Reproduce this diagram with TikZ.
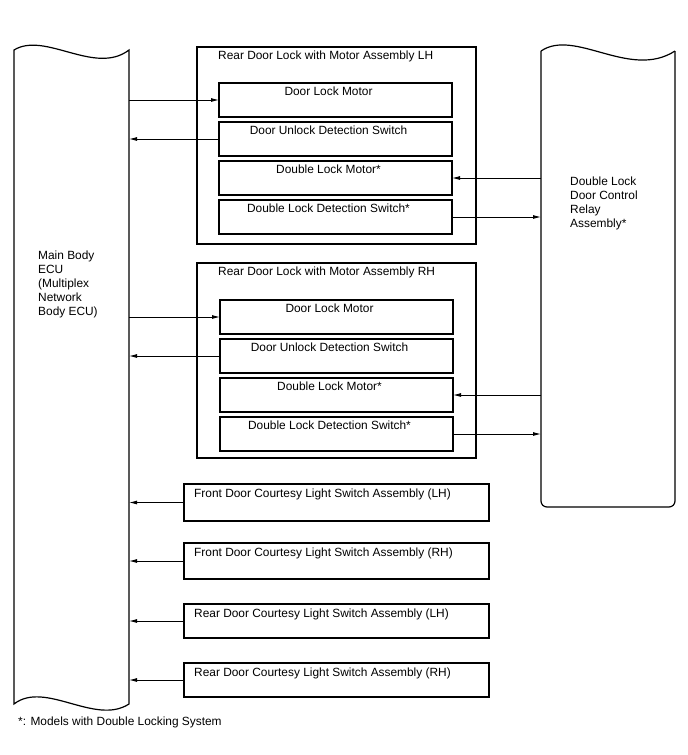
\documentclass[tikz,border=0pt]{standalone}
\usepackage{fontspec}
\setmainfont{Liberation Sans}
\usetikzlibrary{arrows.meta, positioning}

\begin{document}
\begin{tikzpicture}[
            x=1pt, y=-1pt,
            txt/.style={inner sep=0pt, font=\fontsize{11.9}{14}\selectfont},
            shell/.style={line width=1.2pt},
            unit/.style={draw, line width=1.2pt, inner sep=0pt, outer sep=0pt, anchor=north west},
            part/.style={unit, minimum width=233pt, minimum height=34pt,
                label={[txt, anchor=north, xshift=-7pt, yshift=-4pt]north:#1}},
            asm/.style={unit, minimum width=279pt,
                label={[txt, anchor=north west, xshift=21pt, yshift=-4pt]north west:#1}},
            lamp/.style={unit, minimum width=305pt,
                label={[txt, anchor=north west, xshift=10pt, yshift=-5pt]north west:#1}},
            sig/.style={-{Latex[length=8pt, width=4pt]}, line width=0.9pt},
        ]
            \useasboundingbox (0,0) rectangle (688,755);

            % Main body ECU
            \node (ecu) [inner sep=0pt, outer sep=0pt, minimum width=115pt, minimum height=654pt, anchor=north west] at (14,50) {};
            \draw[shell] (ecu.north west) .. controls (45,31) and (95,76) .. (ecu.north east)
                -- (ecu.south east) .. controls (95,726) and (45,680) .. (ecu.south west) -- cycle;
            \node (ecutxt) [txt, anchor=west, align=left] at (38,284) {Main Body\\ECU\\(Multiplex\\Network\\Body ECU)};

            % Double lock relay
            \node (relay) [inner sep=0pt, outer sep=0pt, minimum width=134pt, minimum height=456pt, anchor=north west] at (541,51) {};
            \draw[shell] (relay.north west) .. controls (575,28) and (630,80) .. (relay.north east);
            \draw[shell, rounded corners=6pt] (relay.north east) -- (relay.south east) -- (relay.south west) -- (relay.north west);
            \node (relaytxt) [txt, anchor=west, align=left] at (570,203) {Double Lock\\Door Control\\Relay\\Assembly*};

            % Rear door lock LH
            \node (asmL) [asm={Rear Door Lock with Motor Assembly LH}, minimum height=197pt] at (197,47) {};
            \node (dlmL) [part={Door Lock Motor}] at (219,83) {};
            \node (duL) [part={Door Unlock Detection Switch}, below=5pt of dlmL] {};
            \node (dmL) [part={Double Lock Motor*}, below=5pt of duL] {};
            \node (dsL) [part={Double Lock Detection Switch*}, below=5pt of dmL] {};

            % Rear door lock RH
            \node (asmR) [asm={Rear Door Lock with Motor Assembly RH}, minimum height=195pt] at (197,263) {};
            \node (dlmR) [part={Door Lock Motor}] at (220,300) {};
            \node (duR) [part={Door Unlock Detection Switch}, below=5pt of dlmR] {};
            \node (dmR) [part={Double Lock Motor*}, below=5pt of duR] {};
            \node (dsR) [part={Double Lock Detection Switch*}, below=5pt of dmR] {};

            % Courtesy light switches
            \node (fdL) [lamp={Front Door Courtesy Light Switch Assembly (LH)}, minimum height=37pt] at (184,484) {};
            \node (fdR) [lamp={Front Door Courtesy Light Switch Assembly (RH)}, minimum height=36pt] at (184,543) {};
            \node (rdL) [lamp={Rear Door Courtesy Light Switch Assembly (LH)}, minimum height=34pt] at (184,604) {};
            \node (rdR) [lamp={Rear Door Courtesy Light Switch Assembly (RH)}, minimum height=34pt] at (184,663) {};

            % Signals
            \draw[sig] (ecu.east |- dlmL.west) -- (dlmL.west);
            \draw[sig] (duL.west) -- (ecu.east |- duL.west);
            \draw[sig] (relay.west |- dmL.east) -- (dmL.east);
            \draw[sig] (dsL.east) -- (relay.west |- dsL.east);
            \draw[sig] (ecu.east |- dlmR.west) -- (dlmR.west);
            \draw[sig] (duR.west) -- (ecu.east |- duR.west);
            \draw[sig] (relay.west |- dmR.east) -- (dmR.east);
            \draw[sig] (dsR.east) -- (relay.west |- dsR.east);
            \draw[sig] (fdL.west) -- (ecu.east |- fdL.west);
            \draw[sig] (fdR.west) -- (ecu.east |- fdR.west);
            \draw[sig] (rdL.west) -- (ecu.east |- rdL.west);
            \draw[sig] (rdR.west) -- (ecu.east |- rdR.west);

            % Footnote
            \node (note) [txt, anchor=west] at (18,722) {*: Models with Double Locking System};
        \end{tikzpicture}
\end{document}
